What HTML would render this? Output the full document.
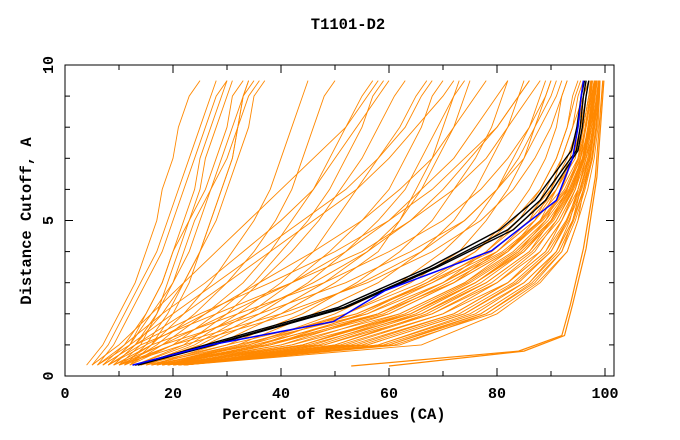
<!DOCTYPE html>
<html><head><meta charset="utf-8"><style>
body{margin:0;background:#fff;}
svg{display:block;font-family:"Liberation Mono",monospace;font-weight:bold;}
</style></head><body>
<svg id="chart" width="680" height="440" xmlns="http://www.w3.org/2000/svg">
<rect width="680" height="440" fill="#fff"/>
<text x="348" y="29" font-size="15.5" text-anchor="middle">T1101-D2</text>
<text x="334" y="419" font-size="15.5" text-anchor="middle">Percent of Residues (CA)</text>
<text transform="translate(31,221) rotate(-90)" font-size="15.5" text-anchor="middle">Distance Cutoff, A</text>
<g id="plot"></g>
<g id="axes"></g>
</svg>
<script>
const levels = [0.35,1,2,3,4,5,6,7,8,9,9.5];
const orangeModels = [
[4,7,10,13,15,17,18,20,21,23,25],[5,8,11,14,17,19,21,23,25,27,28],[6,9,12,15,18,20,22,24,26,28,30],
[8,12,15,18,20,22,24,25,27,29,30],[9,13,17,19,21,23,25,26,28,30,31],[7,11,15,18,20,23,26,28,30,31,33],
[10,14,17,20,23,25,27,29,31,33,34],[8,12,16,20,22,24,27,30,32,34,36],[11,15,19,22,25,28,30,32,34,35,37],
[12,16,20,23,25,27,29,31,32,33,34],[9,13,18,22,25,27,29,31,32,33,35],
[10,16,22,27,31,35,38,40,42,44,45],[11,17,24,30,35,39,42,44,46,48,50],[12,18,26,33,38,42,46,49,52,55,57],
[12,20,28,35,40,45,49,52,55,57,59],[13,22,30,36,42,47,51,55,58,61,63],[13,23,32,40,46,50,54,58,62,65,67],
[14,24,34,42,49,55,60,63,66,68,70],[14,25,36,45,52,58,63,66,69,72,74],[15,26,38,48,56,62,66,69,72,74,75],
[16,28,40,50,58,62,65,68,70,72,73],
[16,30,44,54,62,68,72,76,79,81,82],[17,32,46,58,66,72,76,79,82,84,85],[18,34,50,62,70,76,80,83,86,88,89],
[18,36,52,64,73,78,82,85,87,89,90],[19,38,55,67,76,82,86,89,91,92,93],[20,40,58,70,78,84,88,91,93,94,95],
[20,42,60,72,80,86,89,92,94,95,96],[21,44,62,74,82,87,90,92,94,96,97],[22,46,64,76,84,89,92,94,96,97,97.5],
[22,48,66,78,86,90,93,95,96.5,97.5,98],[22,50,68,80,87,91,94,95.5,97,98,98.5],[22,54,72,82,89,92,94.5,96,97.5,98.5,99],
[22,58,75,85,91,93.5,95,96.5,98,98.5,99],[22,62,78,87,92,94,95.5,97,98,98.8,99],
[6,12,20,28,36,44,52,58,63,66,68],[5,10,16,22,28,34,40,46,52,56,58],[7,13,22,30,38,46,54,60,65,70,72],
[8,15,26,36,46,55,62,68,72,76,78],[9,18,30,42,52,60,66,72,76,80,82],[10,20,34,46,56,64,70,75,80,84,86],
[6,11,18,26,33,40,46,50,54,58,60],
[16,34,54,68,78,85,90,93,95,96,97],[18,38,58,72,82,88,91,94,95.5,96.5,97],[20,44,64,76,85,90,93,95,96,97,97.5],
[21,52,70,82,88,92,94.5,96,97,98,98.5],[19,36,56,70,80,87,91,93.5,95,96,96.5],[17,33,52,66,76,83,88,91,93,94.5,95.5],
[20,56,74,84,90,93,95,96.5,97.5,98,98.5],[21,60,77,86,91,94,95.5,96.8,97.8,98.5,99],[22,66,80,88,93,95,96,97.2,98,98.6,99],
[14,30,54,67,79,86,91,94.5,95.5,96.5,97],[15,32,56,68,80,87,92,95,96,97,97.3],[16,35,58,70,81,88,92.5,95.2,96.3,97.2,97.5],
[17,38,60,72,82,88.5,93,95.5,96.5,97.4,97.7],[18,40,62,74,83,89,93.3,95.8,96.8,97.6,98],[19,42,64,75,84,90,93.6,96,97,97.8,98.2],
[20,45,66,77,85,90.5,94,96.2,97.2,98,98.4],[21,48,68,79,86.5,91.5,94.5,96.5,97.5,98.2,98.6],[22,51,70,80,88,92,95,96.8,97.7,98.4,98.8],
[22,53,72,82,89,92.8,95.3,97,97.9,98.6,98.9],[22,56,74,83.5,90,93.3,95.7,97.3,98.1,98.7,99],[22,58,76,85,91,94,96,97.5,98.3,98.8,99],
[22,60,78,86.5,92,94.5,96.3,97.7,98.5,98.9,99],[22,61,79,87.5,93,95,96.8,98,98.7,99,99.1],[20,50,67,78,86,91,94.2,96.3,97.3,98.1,98.5],
[18,44,63,74.5,83.5,89.5,93.5,95.9,96.9,97.7,98.1],[16,37,59,71,81.5,88.2,92.8,95.4,96.4,97.3,97.6],[21,55,73,83,89.5,93,95.5,97.1,98,98.6,98.9],
[22,59,77,86,91.5,94.2,96.1,97.6,98.4,98.85,99],[19,47,65,76,84.5,90.2,93.8,96.1,97.1,97.9,98.3],
[8,14,28,42,55,64,72,78,82,86,88],[9,16,32,48,60,70,77,82,86,89,90],[10,18,36,52,64,74,80,85,88,91,92],
[11,20,40,56,68,77,83,87,90,92,93],[7,13,25,38,50,60,68,74,80,84,86],[10,22,42,55,66,74,80,84,87,90,91]
];
const outlierY = [0.32,0.8,1.3,2.3,4.1,6.4,9.5];
const outlierX1 = [53,84,92,93.6,96,98.2,99.6];
const outlierX2 = [60,85,92.5,94,96.5,98.5,99.8];
const blueY = [0.35,1,1.75,2.75,4.03,5.65,6.2,7,8,9,9.5];
const blueX = [12.5,27,49.7,59.3,79,91,92.2,94,95,95.6,96];
const blackY = [0.35,1,2.2,3.5,4.7,5.65,7.25,8,9,9.5];
const blackX1 = [13,27,51.5,68.5,82,88,94.7,95.4,96,96.5];
const blackX2 = [13,26,50.5,67.5,80.5,87,93.8,94.8,95.6,96.2];
const blackX3 = [13.5,27.5,52,69,83,89,95,95.8,96.5,97];

const xs = v => 65 + v*5.4;
const ys = v => 376 - v*31.1;
const ns = "http://www.w3.org/2000/svg";
const plot = document.getElementById('plot');
const axes = document.getElementById('axes');
function line(xArr,yArr,color,w,name){
  const p = document.createElementNS(ns,'polyline');
  p.setAttribute('points', xArr.map((x,i)=>xs(x).toFixed(1)+','+ys(yArr[i]).toFixed(1)).join(' '));
  p.setAttribute('fill','none');p.setAttribute('stroke',color);p.setAttribute('stroke-width',w);
  
  
  plot.appendChild(p);
}
orangeModels.forEach((m,i)=>line(m,levels,'#ff8800',0.9,'model-line-'+(i+1)));
line(outlierX1,outlierY,'#ff8800',1.2,'outlier-line-1');
line(outlierX2,outlierY,'#ff8800',1.2,'outlier-line-2');
line(blackX1,blackY,'#000',1.4,'reference-line-1');
line(blackX2,blackY,'#000',1.4,'reference-line-2');
line(blackX3,blackY,'#000',1.4,'reference-line-3');
line(blueX,blueY,'#0000ff',1.5,'highlight-line');

function el(tag,attrs,parent){const e=document.createElementNS(ns,tag);for(const k in attrs)e.setAttribute(k,attrs[k]);parent.appendChild(e);return e;}
el('rect',{x:65,y:65,width:549,height:311,fill:'none',stroke:'#000','stroke-width':1},axes);
const xTicks=[0,10,20,30,40,50,60,70,80,90,100];
const xLabels=['0','20','40','60','80','100'];
xTicks.forEach(t=>{const len=t%20===0?8:5;
  el('line',{x1:xs(t),x2:xs(t),y1:376,y2:376-len,stroke:'#000'},axes);
  el('line',{x1:xs(t),x2:xs(t),y1:65,y2:65+len,stroke:'#000'},axes);});
xLabels.forEach(l=>{const t=el('text',{x:xs(+l),y:398,'font-size':15,'text-anchor':'middle'},axes);t.textContent=l;
  
  });
const yTicks=[0,1,2,3,4,5,6,7,8,9,10];
const yLabels=['0','5','10'];
yTicks.forEach(t=>{const len=t%5===0?8:5;
  el('line',{x1:65,x2:65+len,y1:ys(t),y2:ys(t),stroke:'#000'},axes);
  el('line',{x1:614,x2:614-len,y1:ys(t),y2:ys(t),stroke:'#000'},axes);});
yLabels.forEach(l=>{const t=el('text',{transform:`translate(53,${ys(+l)}) rotate(-90)`,'font-size':15,'text-anchor':'middle'},axes);t.textContent=l;
  
  });
</script>
</body></html>
